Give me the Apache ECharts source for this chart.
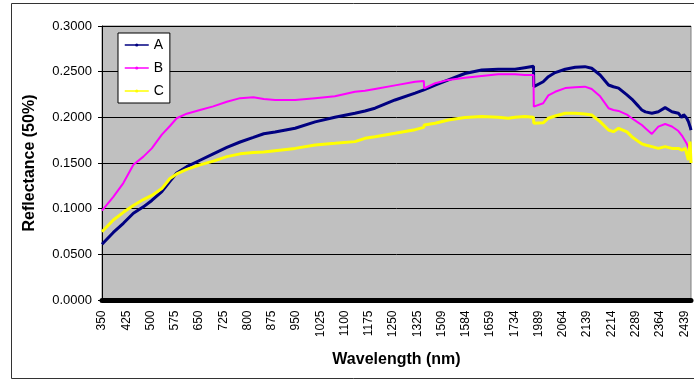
<!DOCTYPE html>
<html>
<head>
<meta charset="utf-8">
<script src="https://cdn.jsdelivr.net/npm/echarts@6/dist/echarts.min.js"></script>
<style>
  html, body { margin: 0; padding: 0; background: #fff; }
  #chart { width: 694px; height: 381px; }
</style>
</head>
<body>
<div id="chart"></div>
<script>
// wavelength bands kept on the category axis (water absorption bands removed)
const bands = [[350, 1345], [1455, 1793], [1974, 2460]]

const sampleNm = [
  350, 385, 416, 447, 478, 504, 535, 560, 581, 612, 653, 694, 736, 777, 818, 850,
  885, 947, 1009, 1070, 1132, 1163, 1194, 1256, 1318, 1345,
  1455, 1489, 1530, 1581, 1633, 1684, 1715, 1736, 1766, 1793,
  1974, 2003, 2019, 2040, 2071, 2102, 2132, 2153, 2179, 2205, 2220, 2236, 2262,
  2277, 2298, 2308, 2319, 2339, 2359, 2380, 2401, 2421, 2432, 2437, 2442, 2447,
  2452, 2457, 2460,
]

const seriesA = [
  0.061, 0.074, 0.084, 0.095, 0.102, 0.109, 0.1186, 0.130, 0.139, 0.146, 0.153, 0.160, 0.167, 0.173, 0.178, 0.182,
  0.184, 0.188, 0.195, 0.200, 0.2045, 0.207, 0.210, 0.219, 0.2265, 0.230,
  0.231, 0.2354, 0.241, 0.248, 0.2519, 0.2526, 0.2526, 0.2526, 0.2544, 0.256,
  0.2336, 0.239, 0.2445, 0.249, 0.2526, 0.2548, 0.2555, 0.2537, 0.2464, 0.2354, 0.2335, 0.232, 0.2245,
  0.220, 0.212, 0.208, 0.206, 0.2045, 0.2062, 0.2106, 0.2062, 0.2045, 0.1997, 0.203, 0.2026, 0.199,
  0.1953, 0.190, 0.186,
]

const seriesB = [
  0.0978, 0.113, 0.128, 0.148, 0.157, 0.166, 0.181, 0.1905, 0.199, 0.204, 0.208, 0.212, 0.217, 0.221, 0.222, 0.220,
  0.219, 0.219, 0.221, 0.223, 0.228, 0.229, 0.231, 0.235, 0.239, 0.2398,
  0.2318, 0.2373, 0.241, 0.2434, 0.2453, 0.2471, 0.2471, 0.2471, 0.2464, 0.2464,
  0.2117, 0.2154, 0.224, 0.228, 0.232, 0.233, 0.2336, 0.231, 0.223, 0.210, 0.208, 0.207, 0.203,
  0.199, 0.194, 0.1916, 0.188, 0.1818, 0.1898, 0.1927, 0.190, 0.185, 0.180, 0.177, 0.175, 0.171,
  0.167, 0.161, 0.158,
]

const seriesC = [
  0.0748, 0.0876, 0.096, 0.1035, 0.110, 0.1145, 0.122, 0.133, 0.138, 0.143, 0.148, 0.152, 0.157, 0.160, 0.1615, 0.162,
  0.1635, 0.166, 0.1697, 0.1715, 0.1734, 0.177, 0.1788, 0.1825, 0.1865, 0.189,
  0.1916, 0.1935, 0.197, 0.1997, 0.2008, 0.200, 0.199, 0.200, 0.2008, 0.200,
  0.1935, 0.194, 0.199, 0.2015, 0.2045, 0.2045, 0.2037, 0.2026, 0.1953, 0.1861, 0.1843, 0.188, 0.184,
  0.1788, 0.1734, 0.171, 0.1697, 0.1679, 0.166, 0.1679, 0.166, 0.166, 0.164, 0.1624, 0.166, 0.166,
  0.1533, 0.1734, 0.150,
]

const yTicks = { min: 0, max: 0.3, step: 0.05 }

// one category per nm inside each band
const wavelengths = []
bands.forEach(([from, to]) => {
  for (let w = from; w <= to; w++) wavelengths.push(String(w))
})

const toPairs = (values) => sampleNm.map((w, i) => [String(w), values[i]])

const chart = echarts.init(document.getElementById('chart'))

const lineSeries = (name, values, color, width) => ({
  name,
  type: 'line',
  data: toPairs(values),
  symbol: 'circle',
  symbolSize: 3,
  showSymbol: false,
  lineStyle: { color, width },
  itemStyle: { color },
})

const option = {
  animation: false,
  backgroundColor: '#fff',
  textStyle: { fontFamily: 'Liberation Sans, Arial, sans-serif', color: '#000' },
  graphic: [
    {
      type: 'rect',
      shape: { x: 11.5, y: 3.5, width: 700, height: 375 },
      style: { fill: null, stroke: '#333', lineWidth: 1 },
      silent: true,
    },
  ],
  grid: {
    left: 102,
    right: 3,
    top: 26,
    bottom: 81,
    show: true,
    backgroundColor: '#c0c0c0',
    borderColor: '#808080',
    borderWidth: 1,
  },
  legend: {
    orient: 'vertical',
    left: 118,
    top: 33,
    padding: [5, 6, 5, 6],
    itemGap: 9,
    itemWidth: 24,
    itemHeight: 4,
    lineStyle: { width: 1.5 },
    backgroundColor: '#fff',
    borderColor: '#000',
    borderWidth: 1,
    borderRadius: 0,
    textStyle: { fontSize: 14, color: '#000', fontFamily: 'Liberation Sans, Arial, sans-serif' },
    data: ['A', 'B', 'C'],
  },
  xAxis: {
    type: 'category',
    data: wavelengths,
    boundaryGap: false,
    offset: 2.5,
    name: 'Wavelength (nm)',
    nameLocation: 'middle',
    nameGap: 49,
    nameTextStyle: { fontSize: 16, fontWeight: 'bold', color: '#000' },
    axisLine: { lineStyle: { color: '#000', width: 5 } },
    axisTick: { show: false },
    axisLabel: {
      interval: 74,
      rotate: 90,
      margin: 8,
      fontSize: 12,
      color: '#000',
    },
    splitLine: { show: false },
  },
  yAxis: {
    type: 'value',
    min: yTicks.min,
    max: yTicks.max,
    interval: yTicks.step,
    name: 'Reflectance (50%)',
    nameLocation: 'middle',
    nameGap: 64,
    nameTextStyle: { fontSize: 16, fontWeight: 'bold', color: '#000' },
    axisLine: { show: true, lineStyle: { color: '#000', width: 1 } },
    axisTick: { show: true, length: 4, lineStyle: { color: '#000' } },
    axisLabel: {
      margin: 10,
      fontSize: 13,
      color: '#000',
      formatter: (v) => v.toFixed(4),
    },
    splitLine: { lineStyle: { color: '#000', width: 1 } },
  },
  series: [
    lineSeries('A', seriesA, '#000080', 3),
    lineSeries('B', seriesB, '#ff00ff', 2),
    lineSeries('C', seriesC, '#ffff00', 3),
  ],
}

chart.setOption(option)
</script>
</body>
</html>
